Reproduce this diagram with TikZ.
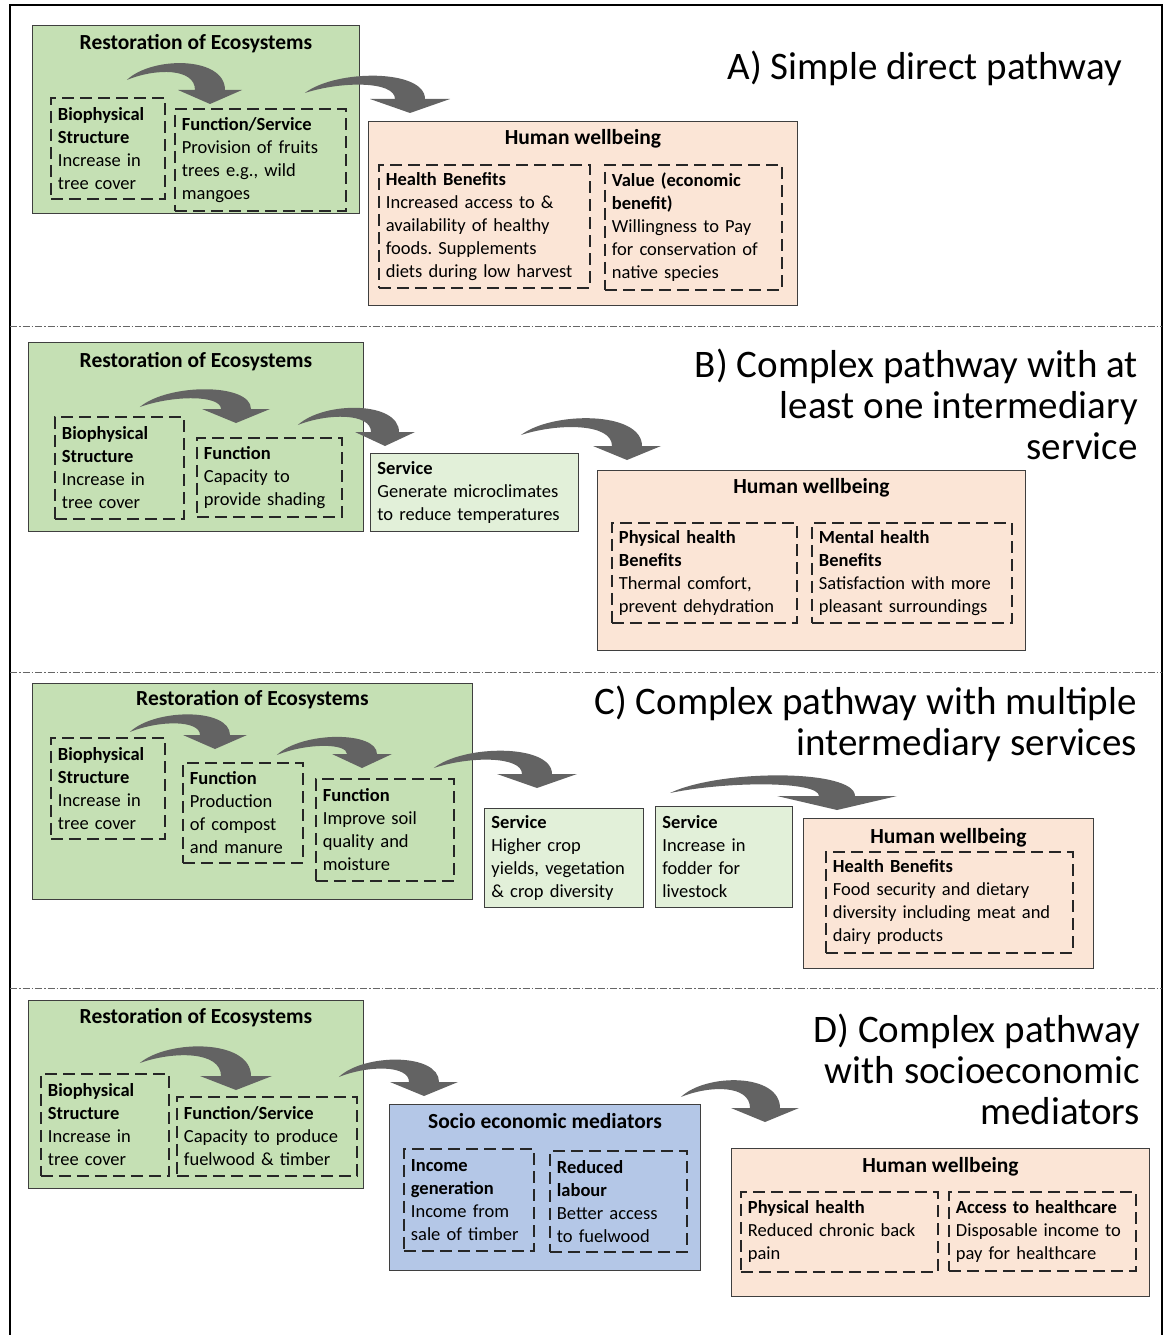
\documentclass[tikz,border=0pt]{standalone}
\usepackage{fontspec}
\setmainfont{Carlito}
\usepackage{tikz}
\usetikzlibrary{calc,positioning}
\definecolor{ecoGreen}{HTML}{C5E0B4}
\definecolor{svcGreen}{HTML}{E2F0D9}
\definecolor{hwPeach}{HTML}{FBE5D6}
\definecolor{socBlue}{HTML}{B4C7E7}
\definecolor{arrGray}{HTML}{636363}
\definecolor{edgeGray}{HTML}{3F3F3F}

% curved block arrow: start, tip, head half width, band half width
\newcommand{\bendarrow}[4]{%
  \fill[arrGray] let \p1=#1, \p2=#2 in
    (\x1,\y1) .. controls ({\x1+0.3*(\x2-\x1)},{\y1+24pt}) and ({\x2+#4pt},{\y1+24pt})
      .. ({\x2+#4pt},{\y2+14pt}) -- ({\x2+#3pt},{\y2+14pt}) -- (\x2,\y2)
      -- ({\x2-#3pt},{\y2+14pt}) -- ({\x2-#4pt},{\y2+14pt})
      .. controls ({\x2-#4pt},{\y1+12pt}) and ({\x1+0.35*(\x2-\x1)},{\y1+12pt}) .. (\x1,\y1) -- cycle;}

\begin{document}
\frenchspacing
\begin{tikzpicture}[x=1pt, y=-1pt,
  every node/.style={font=\fontsize{18.5}{23}\selectfont},
  outer/.style={draw=edgeGray, line width=0.9pt, anchor=north west, inner sep=0pt},
  eco/.style={outer, fill=ecoGreen},
  hwb/.style={outer, fill=hwPeach},
  soc/.style={outer, fill=socBlue},
  svc/.style={outer, fill=svcGreen, align=left, inner xsep=7pt},
  dbox/.style={draw=black!85, line width=1.8pt, dash pattern=on 12pt off 6pt,
               anchor=north west, align=left, inner xsep=7pt, inner ysep=0pt},
  ttl/.style={font=\fontsize{21.5}{25}\selectfont\bfseries, inner sep=0pt},
  pathttl/.style={font=\fontsize{39}{41}\selectfont, align=right, anchor=east, inner sep=0pt},
  sep/.style={black!60, line width=0.8pt, dash pattern=on 7pt off 2pt on 1.5pt off 2pt},
]
\useasboundingbox (0,0) rectangle (1166,1335);

% Frame and separators
\draw[line width=2pt] (10,1335) -- (10,5) -- (1162,5) -- (1162,1335);
\draw[sep] (10,326) -- (1162,326);
\draw[sep] (10,672) -- (1162,672);
\draw[sep] (10,988) -- (1162,988);

% A) Simple direct pathway
\node[eco, minimum width=327pt, minimum height=188pt] (restA) at (32,25) {};
\node[ttl, below=9pt of restA.north] (restA-t) {Restoration of Ecosystems};
\node[dbox, text width=100pt, minimum height=101pt] (bioA) at (50,97)
  {\textbf{Biophysical}\\\textbf{Structure}\\Increase in\\tree cover};
\node[dbox, text width=157pt, minimum height=102pt] (fsA) at (174,108)
  {\textbf{Function/Service}\\Provision of fruits\\trees e.g., wild\\mangoes};
\node[hwb, minimum width=429pt, minimum height=184pt] (hwA) at (368,121) {};
\node[ttl, below=8pt of hwA.north] (hwA-t) {Human wellbeing};
\node[dbox, text width=197pt, minimum height=123pt] (hbA) at (378,164)
  {\textbf{Health Benefits}\\Increased access to \&\\availability of healthy\\foods. Supplements\\diets during low harvest};
\node[dbox, text width=163pt, minimum height=125pt] (valA) at (604,164)
  {\textbf{Value (economic}\\\textbf{benefit)}\\Willingness to Pay\\for conservation of\\native species};
\node[pathttl] (ttlA) at (1122,68) {A) Simple direct pathway};

\bendarrow{($(bioA.north east)+(-39,-17)$)}{($(fsA.north west)+(36,-4)$)}{32}{15}
\bendarrow{($(fsA.north east)+(-42,-15)$)}{($(hwA.north west)+(42,-8)$)}{40}{15}

% B) Complex pathway, one intermediary service
\node[eco, minimum width=335pt, minimum height=189pt] (restB) at (28,342) {};
\node[ttl, below=10pt of restB.north] (restB-t) {Restoration of Ecosystems};
\node[dbox, text width=115pt, minimum height=102pt] (bioB) at (54,416)
  {\textbf{Biophysical}\\\textbf{Structure}\\Increase in\\tree cover};
\node[dbox, text width=131pt, minimum height=79pt] (fnB) at (196,437)
  {\textbf{Function}\\Capacity to\\provide shading};
\node[svc, text width=194pt, minimum height=78pt] (svB) at (370,453)
  {\textbf{Service}\\Generate microclimates\\to reduce temperatures};
\node[hwb, minimum width=428pt, minimum height=180pt] (hwB) at (597,470) {};
\node[ttl, below=8pt of hwB.north] (hwB-t) {Human wellbeing};
\node[dbox, text width=171pt, minimum height=100pt] (phB) at (611,522)
  {\textbf{Physical health}\\\textbf{Benefits}\\Thermal comfort,\\prevent dehydration};
\node[dbox, text width=186pt, minimum height=100pt] (mhB) at (811,522)
  {\textbf{Mental health}\\\textbf{Benefits}\\Satisfaction with more\\pleasant surroundings};
\node[pathttl] (ttlB) at (1138,404) {B) Complex pathway with at\\least one intermediary\\service};

\bendarrow{($(bioB.north east)+(-45,-9)$)}{($(fnB.north west)+(40,-14)$)}{34}{15}
\bendarrow{($(fnB.north east)+(-45,-12)$)}{($(svB.north west)+(15,-7)$)}{30}{14}
\bendarrow{($(svB.north east)+(-58,-18)$)}{($(hwB.north west)+(30,-10)$)}{34}{15}

% C) Complex pathway, multiple intermediary services
\node[eco, minimum width=440pt, minimum height=216pt] (restC) at (32,683) {};
\node[ttl, below=7pt of restC.north] (restC-t) {Restoration of Ecosystems};
\node[dbox, text width=100pt, minimum height=101pt] (bioC) at (50,737)
  {\textbf{Biophysical}\\\textbf{Structure}\\Increase in\\tree cover};
\node[dbox, text width=106pt, minimum height=100pt] (fnC1) at (182,762)
  {\textbf{Function}\\Production\\of compost\\and manure};
\node[dbox, text width=124pt, minimum height=102pt] (fnC2) at (315,778)
  {\textbf{Function}\\Improve soil\\quality and\\moisture};
\node[svc, text width=145pt, minimum height=99pt] (svC1) at (484,808)
  {\textbf{Service}\\Higher crop\\yields, vegetation\\\& crop diversity};
\node[svc, text width=123pt, minimum height=101pt] (svC2) at (655,806)
  {\textbf{Service}\\Increase in\\fodder for\\livestock};
\node[hwb, minimum width=290pt, minimum height=150pt] (hwC) at (803,818) {};
\node[ttl, below=10pt of hwC.north] (hwC-t) {Human wellbeing};
\node[dbox, text width=233pt, minimum height=101pt] (hbC) at (825,851)
  {\textbf{Health Benefits}\\Food security and dietary\\diversity including meat and\\dairy products};
\node[pathttl] (ttlC) at (1137,724) {C) Complex pathway with multiple\\intermediary services};

\bendarrow{($(bioC.north east)+(-36,-5)$)}{($(fnC1.north west)+(33,-13)$)}{32}{15}
\bendarrow{($(fnC1.north east)+(-27,-7)$)}{($(fnC2.north west)+(47,-10)$)}{30}{15}
\bendarrow{($(fnC2.north east)+(-21,-10)$)}{($(svC1.north west)+(53,-20)$)}{40}{15}
\bendarrow{($(svC2.north west)+(15,-13)$)}{($(hwC.north west)+(34,-8)$)}{60}{18}

% D) Complex pathway with socioeconomic mediators
\node[eco, minimum width=335pt, minimum height=188pt] (restD) at (28,1000) {};
\node[ttl, below=8pt of restD.north] (restD-t) {Restoration of Ecosystems};
\node[dbox, text width=114pt, minimum height=102pt] (bioD) at (40,1073)
  {\textbf{Biophysical}\\\textbf{Structure}\\Increase in\\tree cover};
\node[dbox, text width=166pt, minimum height=79pt] (fsD) at (176,1096)
  {\textbf{Function/Service}\\Capacity to produce\\fuelwood \& timber};
\node[soc, minimum width=311pt, minimum height=166pt] (socD) at (389,1104) {};
\node[ttl, below=9pt of socD.north] (socD-t) {Socio economic mediators};
\node[dbox, text width=116pt, minimum height=102pt] (incD) at (403,1148)
  {\textbf{Income}\\\textbf{generation}\\Income from\\sale of timber};
\node[dbox, text width=123pt, minimum height=101pt] (redD) at (549,1150)
  {\textbf{Reduced}\\\textbf{labour}\\Better access\\to fuelwood};
\node[hwb, minimum width=418pt, minimum height=148pt] (hwD) at (731,1148) {};
\node[ttl, below=9pt of hwD.north] (hwD-t) {Human wellbeing};
\node[dbox, text width=183pt, minimum height=80pt] (phD) at (740,1191)
  {\textbf{Physical health}\\Reduced chronic back\\pain};
\node[dbox, text width=173pt, minimum height=79pt] (acD) at (948,1191)
  {\textbf{Access to healthcare}\\Disposable income to\\pay for healthcare};
\node[pathttl] (ttlD) at (1140,1069) {D) Complex pathway\\with socioeconomic\\mediators};

\bendarrow{($(bioD.north east)+(-30,-10)$)}{($(fsD.north west)+(60,-6)$)}{36}{15}
\bendarrow{($(fsD.north east)+(-19,-19)$)}{($(socD.north west)+(35,-8)$)}{34}{15}
\bendarrow{($(socD.north east)+(-20,-7)$)}{($(hwD.north west)+(34,-26)$)}{34}{15}

\end{tikzpicture}
\end{document}
